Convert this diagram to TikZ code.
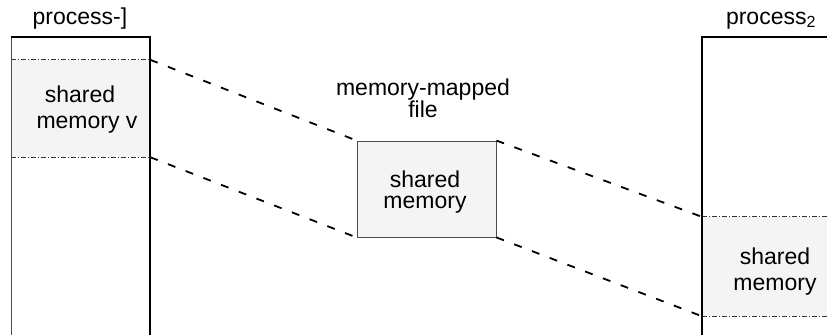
\documentclass[tikz,border=0pt]{standalone}
\usepackage{fontspec}
\setmainfont{Liberation Sans}
\begin{document}
\begin{tikzpicture}[x=1pt,y=-1pt,
  lbl/.style={anchor=base,inner sep=0pt,font=\fontsize{23}{26}\selectfont},
  region/.style={draw=none,fill=gray!9,inner sep=0pt,minimum width=#1},
  border/.style={line width=1pt,dash pattern=on 5pt off 2pt on 1pt off 2pt,black!80},
  link/.style={line width=1.8pt,dash pattern=on 8pt off 11pt}]
\useasboundingbox (0,0) rectangle (827,335);
% shared regions
\node[region=139pt,minimum height=97pt] (ls) at (80.5,108.5) {};
\node[region=125pt,minimum height=99pt] (rs) at (764.5,266.5) {};
\node[region=139pt,minimum height=96pt,draw=black!70,line width=0.9pt] (mf) at (426.5,189) {};
% region borders
\draw[border] (ls.north west) -- (ls.north east);
\draw[border] (ls.south west) -- (ls.south east);
\draw[border] (rs.north west) -- (rs.north east);
\draw[border] (rs.south west) -- (rs.south east);
% process outlines
\coordinate (l0) at (11,335); \coordinate (l1) at (11,37);
\coordinate (l2) at (150,37); \coordinate (l3) at (150,335);
\draw[line width=1pt,black!70] (l0) -- (l1);
\draw[line width=1.8pt] (l1) -- (l2) -- (l3);
\coordinate (r0) at (702,335); \coordinate (r1) at (702,37);
\coordinate (r2) at (827,37);
\draw[line width=1.8pt] (r0) -- (r1) -- (r2);
% connectors
\draw[link] (ls.north east) -- (mf.north west);
\draw[link] (ls.south east) -- (mf.south west);
\draw[link] (mf.north east) -- (rs.north west);
\draw[link] (mf.south east) -- (rs.south west);
% labels
\node[lbl] (p1) at (80,24) {process-]};
\node[lbl] (p2) at (771,24) {process\textsubscript{2}};
\node[lbl] (mm) at (423,95) {memory-mapped};
\node[lbl] (fi) at (423,117) {file};
\node[lbl] (s1) at (80,102) {shared};
\node[lbl] (m1) at (87,128) {memory v};
\node[lbl] (s2) at (425,187) {shared};
\node[lbl] (m2) at (425,208) {memory};
\node[lbl] (s3) at (775,264) {shared};
\node[lbl] (m3) at (775,290) {memory};
\end{tikzpicture}
\end{document}
